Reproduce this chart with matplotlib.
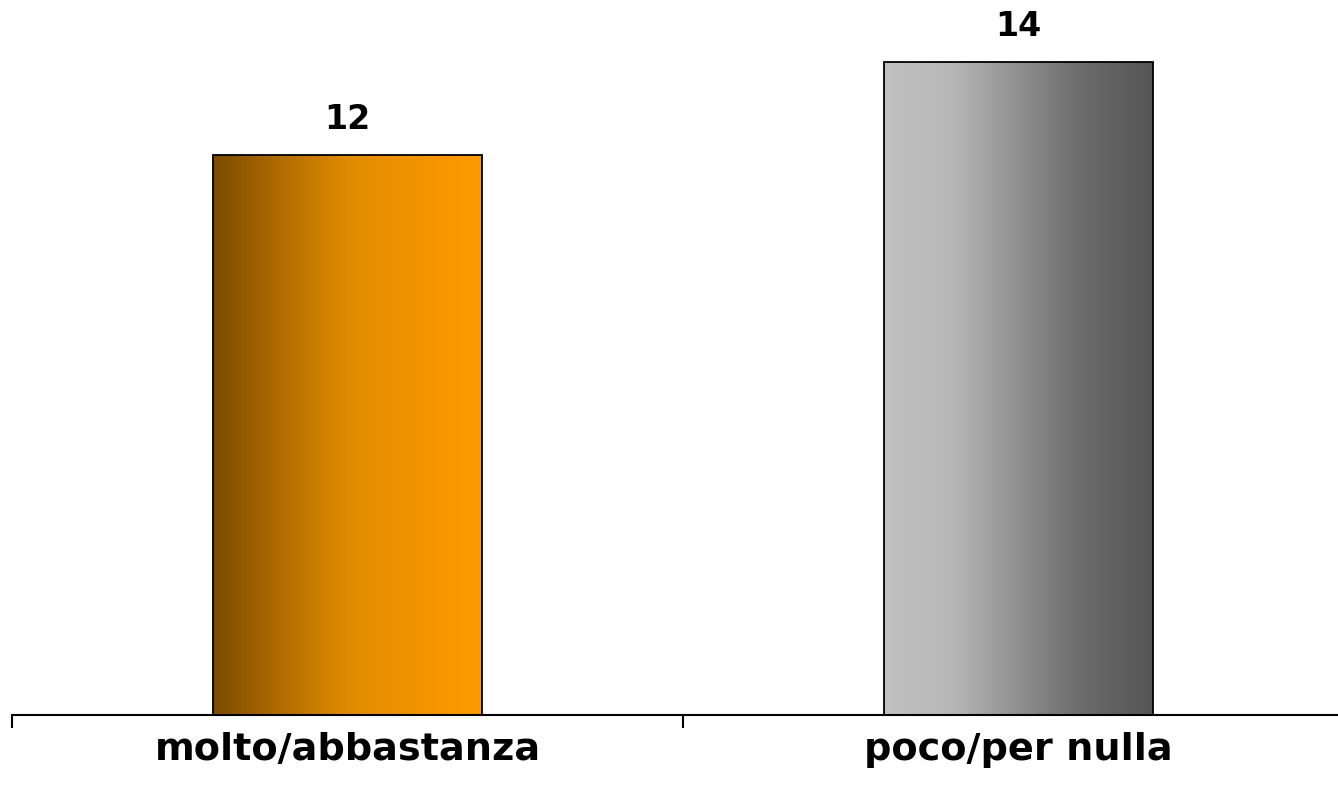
import numpy as np
import matplotlib
matplotlib.use("Agg")
import matplotlib.pyplot as plt
from matplotlib.colors import LinearSegmentedColormap

categories = ["molto/abbastanza", "poco/per nulla"]
values = [12, 14]
gradients = [
    ["#7a4b00", "#b06d00", "#e08b00", "#f29400", "#ff9a00"],
    ["#c0c0c0", "#b8b8b8", "#8f8f8f", "#6a6a6a", "#555555"],
]

fig = plt.figure(figsize=(13.38, 7.92), dpi=100)
ax = fig.add_axes([12 / 1338, 77 / 792, 1326 / 1338, 715 / 792])

x = np.arange(len(categories))
width = 0.4
bars = ax.bar(x, values, width, facecolor="none", edgecolor="black",
              linewidth=1.3, zorder=3)

grad = np.linspace(0, 1, 256).reshape(1, -1)
for bar, cols in zip(bars, gradients):
    cmap = LinearSegmentedColormap.from_list("g", cols)
    x0, y0 = bar.get_x(), bar.get_y()
    im = ax.imshow(grad, cmap=cmap, aspect="auto", zorder=2,
                   extent=[x0, x0 + bar.get_width(), y0, y0 + bar.get_height()])
    im.set_clip_path(bar)
    ax.annotate(f"{bar.get_height():g}",
                (bar.get_x() + bar.get_width() / 2, bar.get_height()),
                xytext=(0, 14), textcoords="offset points",
                ha="center", va="bottom", fontsize=24, fontweight="bold")

ax.set_xticks([-0.5, 0.5, 1.5])
ax.set_xticklabels([])
ax.set_xticks(x, minor=True)
ax.set_xticklabels(categories, minor=True, fontsize=27.5, fontweight="bold")
ax.tick_params(axis="x", which="major", direction="out", length=9.5,
               width=1.5)
ax.tick_params(axis="x", which="minor", length=0, pad=12)
ax.set_yticks([])
ax.set_xlim(-0.5, -0.5 + 1326 / 671)
ax.set_ylim(0, 15.33)
for s in ["top", "right", "left"]:
    ax.spines[s].set_visible(False)
ax.spines["bottom"].set_linewidth(1.5)

fig.savefig("out.png", dpi=100)
